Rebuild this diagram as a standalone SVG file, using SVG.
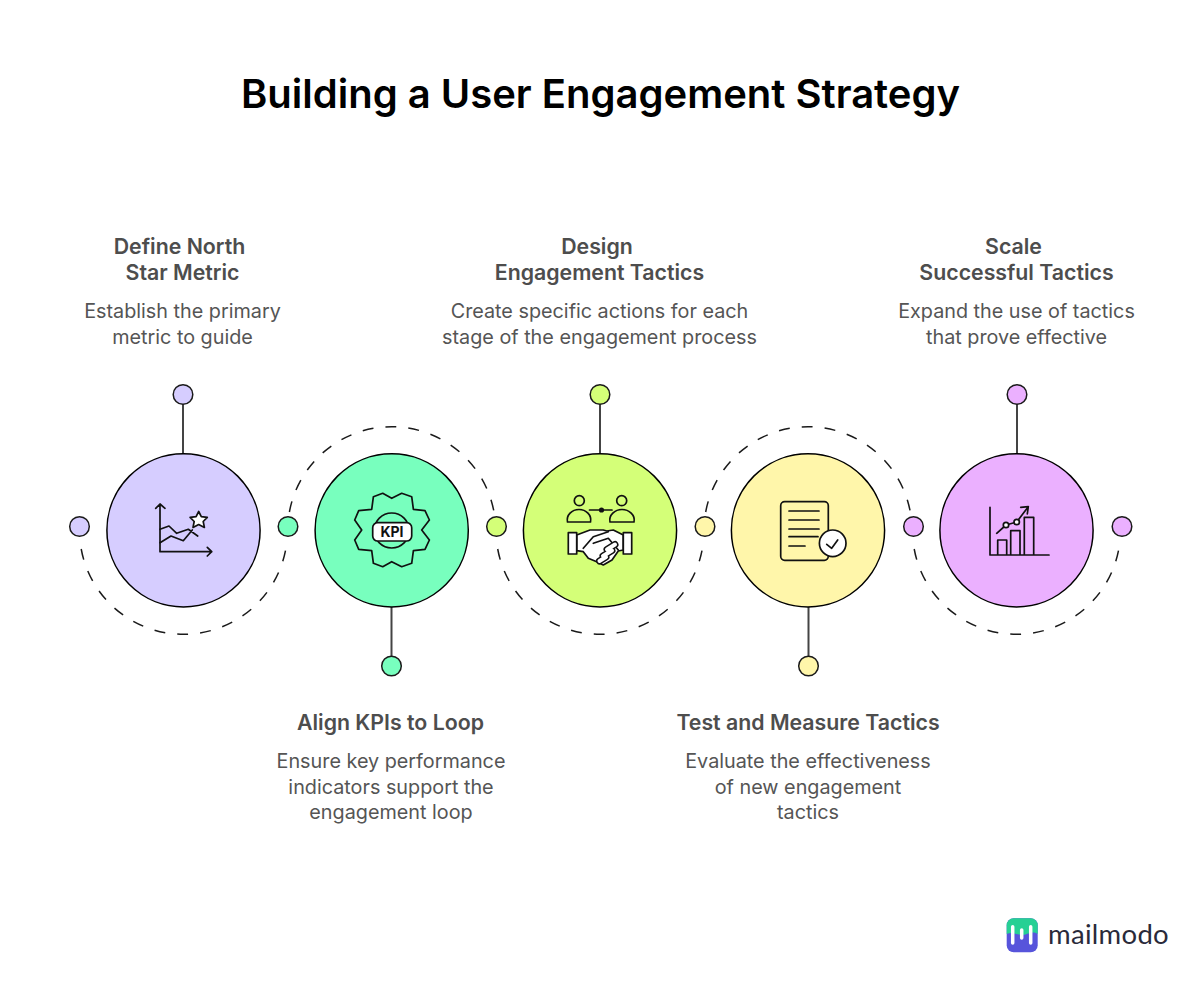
<svg xmlns="http://www.w3.org/2000/svg" width="1200" height="984" viewBox="0 0 1200 984">
<style>
text{font-family:Inter,"Liberation Sans",sans-serif;text-anchor:middle}
.t{font-size:40px;font-weight:600;fill:#000}
.h{font-size:21.3px;font-weight:600;fill:#4d4d4d}
.b{font-size:19.8px;font-weight:400;fill:#555}
.c{stroke:#000;stroke-width:1.5}
.d{stroke:#1a1a1a;stroke-width:1.5}
.l{stroke:#444;stroke-width:2;fill:none}
.a{stroke:#1a1a1a;stroke-width:1.5;fill:none;stroke-dasharray:11 12}
.i{fill:none;stroke:#111;stroke-width:1.7;stroke-linejoin:round;stroke-linecap:round}
.w{fill:#fff;stroke:#111;stroke-width:1.7;stroke-linejoin:round;stroke-linecap:round}
.fo{fill:none;stroke:#111;stroke-width:7;stroke-linecap:round}
.fi{fill:none;stroke:#fff;stroke-width:4;stroke-linecap:round}
.p{fill:#d6cdff}.g{fill:#78ffbe}.y{fill:#d4ff78}.m{fill:#fff6aa}.v{fill:#ebb0ff}
</style>
<rect width="1200" height="984" fill="#fff"/>
<text class="t" x="600.500" y="108">Building a User Engagement Strategy</text>
<g id="connectors">
<path class="a" d="M81.200 549A104 104 0 0 0 285.800 549"/>
<path class="a" d="M289.400 512A104 104 0 0 1 494 512"/>
<path class="a" d="M497.700 549A104 104 0 0 0 702.300 549"/>
<path class="a" d="M705.700 512A104 104 0 0 1 910.300 512"/>
<path class="a" d="M914.200 549A104 104 0 0 0 1118.800 549"/>
<path class="l" d="M183 404V454"/>
<path class="l" d="M391.500 607V656"/>
<path class="l" d="M600 404V454"/>
<path class="l" d="M808.500 607V656"/>
<path class="l" d="M1017 404V454"/>
</g>
<g id="node-1">
<circle class="p c" cx="183.500" cy="530.300" r="76.600"/>
<circle class="p d" cx="183" cy="394.500" r="9.800"/>
<circle class="p d" cx="79.500" cy="526.500" r="9.800"/>
<path class="i" d="M160 504V551.700H211.700M155.700 508.300L160 504L165 508.300M207.300 547.300L211.700 551.700L207.300 556"/>
<path class="i" d="M160 529.300L169 526L176.700 533.300L188.300 529.300L197.700 536M160 542.700L171 536L183.300 540.700L192.300 530"/>
<path class="w" d="M198.700 511.500L201.300 516.700L207.300 517.400L203.200 521.500L204.400 527.400L198.700 524.500L193 527.400L194.200 521.500L190.100 517.400L196.100 516.700Z"/>
<text class="h" x="179.500" y="253.500">Define North</text>
<text class="h" x="182.500" y="279.500">Star Metric</text>
<text class="b" x="182.500" y="318">Establish the primary</text>
<text class="b" x="182.500" y="343.500">metric to guide</text>
</g>
<g id="node-2">
<circle class="g c" cx="391.700" cy="530.300" r="76.600"/>
<circle class="g d" cx="288" cy="526.500" r="9.800"/>
<circle class="g d" cx="391.500" cy="666" r="9.800"/>
<path class="i" d="M373.400 496.700L382.700 493.300L391.700 498.300L401.700 493.300L411.700 496.700L413.400 509.300L425 510.700L429.400 520L421.700 530L429.400 540L425 549.300L413.400 550.700L411.700 563.300L401.700 566.700L391.700 561.700L382.700 566.700L373.400 563.300L371.700 550.700L358.700 549.300L354.700 540L361.700 530L354.700 520L358.700 510.700L371.700 509.300Z"/>
<circle class="i" cx="391.700" cy="530.500" r="17.500"/>
<rect class="w" x="372.700" y="522.700" width="39" height="18.300" rx="5"/>
<text x="392" y="537.300" font-size="14" font-weight="700" fill="#111">KPI</text>
<text class="h" x="390.500" y="729.500">Align KPIs to Loop</text>
<text class="b" x="391" y="768">Ensure key performance</text>
<text class="b" x="391" y="793.500">indicators support the</text>
<text class="b" x="391" y="819">engagement loop</text>
</g>
<g id="node-3">
<circle class="y c" cx="600" cy="530.300" r="76.600"/>
<circle class="y d" cx="600" cy="394.500" r="9.800"/>
<circle class="y d" cx="496.500" cy="526.500" r="9.800"/>
<circle class="i" cx="579.300" cy="500.700" r="5"/>
<circle class="i" cx="621.700" cy="500.700" r="5"/>
<path class="i" d="M567.500 522C566 515 572 509.500 579 509.500S592 515 590.500 522Z"/>
<path class="i" d="M610 522C608.500 515 615 509.500 622 509.500S635.500 515 634 522Z"/>
<path class="i" d="M589.500 510H612"/>
<circle cx="601.500" cy="510" r="2.600" fill="#111"/>
<path class="w" d="M576.700 535L590 530H603.300L606.700 531L613.300 530L623.300 535V550L618.300 551L612 560L603.300 565L596.700 561.700L588.300 558.300L583.300 551.700L576.700 550.700Z"/>
<path class="i" d="M608.300 531.700L593.300 536.700L583.300 548.300M593.300 543.300L608.300 538.300L618.300 550"/>
<path class="fo" d="M599.500 561L606 557M603 556L612 550.500M607 549.500L615 544.500"/>
<path class="fi" d="M599.500 561L606 557M603 556L612 550.500M607 549.500L615 544.500"/>
<rect class="w" x="568.300" y="532.700" width="8.400" height="21.300"/>
<rect class="w" x="623.300" y="532.700" width="8.400" height="21.300"/>
<text class="h" x="597" y="253.500">Design</text>
<text class="h" x="599.500" y="279.500">Engagement Tactics</text>
<text class="b" x="599.500" y="318">Create specific actions for each</text>
<text class="b" x="599.500" y="343.500">stage of the engagement process</text>
</g>
<g id="node-4">
<circle class="m c" cx="808" cy="530.300" r="76.600"/>
<circle class="m d" cx="705" cy="526.500" r="9.800"/>
<circle class="m d" cx="808.500" cy="666" r="9.800"/>
<rect class="i" x="780.700" y="501.700" width="47.600" height="58.600" rx="4"/>
<path class="i" stroke-linecap="butt" d="M789 511H819M789 520H819M789 529H819M789 536.700H818M789 546H805"/>
<circle class="w" cx="832.700" cy="543.300" r="13.300"/>
<path class="i" d="M826.700 544.300L831.700 548.300L837.700 540"/>
<text class="h" x="808" y="729.500">Test and Measure Tactics</text>
<text class="b" x="808" y="768">Evaluate the effectiveness</text>
<text class="b" x="808" y="793.500">of new engagement</text>
<text class="b" x="808" y="819">tactics</text>
</g>
<g id="node-5">
<circle class="v c" cx="1016.500" cy="530.300" r="76.600"/>
<circle class="v d" cx="913.500" cy="526.500" r="9.800"/>
<circle class="v d" cx="1017" cy="394.500" r="9.800"/>
<circle class="v d" cx="1122" cy="526.500" r="9.800"/>
<path class="i" stroke-linecap="butt" d="M990 507.300V555H1049M997.700 555V540H1006.700V555M1010.700 555V530.700H1020V555M1024.300 555V517.300H1033.700V555"/>
<path class="i" d="M996.700 533.300L1006 525L1016.700 522L1028.300 506.700M1020.700 507.300L1028.300 506.700L1027.300 514"/>
<circle class="w" cx="1006" cy="525" r="2.700"/>
<circle class="w" cx="1016.700" cy="522" r="2.700"/>
<text class="h" x="1013.500" y="253.500">Scale</text>
<text class="h" x="1016.500" y="279.500">Successful Tactics</text>
<text class="b" x="1016.500" y="318">Expand the use of tactics</text>
<text class="b" x="1016.500" y="343.500">that prove effective</text>
</g>
<g id="logo">
<rect x="1006.700" y="918.300" width="31" height="34" rx="7" fill="#5754db"/>
<path d="M1006.700 934V925.300A7 7 0 0 1 1013.700 918.300H1030.700A7 7 0 0 1 1037.700 925.300V934C1032 930 1027 935 1022 935S1012 931 1006.700 934Z" fill="#26d094"/>
<path d="M1012.700 926.700V943M1021.700 930V938M1030.700 926.700V943" stroke="#fff" stroke-width="3.500" stroke-linecap="round" fill="none"/>
<text x="1108.500" y="944" font-size="27.500" letter-spacing=".3" fill="#2a2a3a" style="font-family:Lato,Inter,sans-serif">mailmodo</text>
</g>
</svg>
